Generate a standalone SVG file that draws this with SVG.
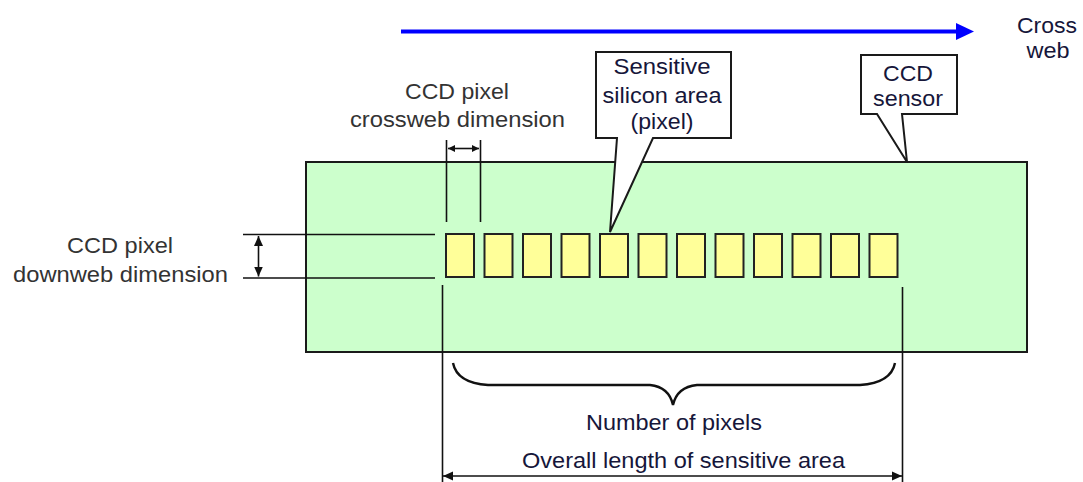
<svg xmlns="http://www.w3.org/2000/svg" width="1083" height="482" viewBox="0 0 1083 482">
  <defs>
    <style>
      .t { font-family: "Liberation Sans", Arial, sans-serif; font-size: 22px; fill: #16163a; text-anchor: middle; }
      .g { fill: #333333; }
      .ln { stroke: #111; stroke-width: 1.6; fill: none; }
      .box { stroke: #1a1a1a; stroke-width: 2; }
      .pix { fill: #ffff99; stroke: #222; stroke-width: 2; }
      .call { fill: #ffffff; stroke: #1a1a1a; stroke-width: 2; stroke-linejoin: miter; }
    </style>
    <marker id="ah" markerUnits="userSpaceOnUse" markerWidth="10" markerHeight="10" refX="10" refY="5" orient="auto-start-reverse">
      <path d="M0,0.5 L10,5 L0,9.5 z" fill="#111"/>
    </marker>
    <marker id="ahs" markerUnits="userSpaceOnUse" markerWidth="7" markerHeight="8" refX="7" refY="4" orient="auto-start-reverse">
      <path d="M0,0.5 L7,4 L0,7.5 z" fill="#111"/>
    </marker>
  </defs>
  <rect width="1083" height="482" fill="#ffffff"/>

  <g id="direction">
    <line x1="401" y1="31.5" x2="958" y2="31.5" stroke="#0000ff" stroke-width="4"/>
    <polygon points="956,23 974,31.5 956,40" fill="#0000ff"/>
    <text class="t" x="1047" y="33" textLength="60" lengthAdjust="spacingAndGlyphs">Cross</text>
    <text class="t" x="1048" y="58" textLength="43" lengthAdjust="spacingAndGlyphs">web</text>
  </g>

  <g id="ccd-sensor">
    <rect class="box" x="306" y="162" width="721" height="190" fill="#ccffcc"/>
  </g>

  <g id="pixels">
    <rect class="pix" x="446" y="234" width="28" height="43"/>
    <rect class="pix" x="484.5" y="234" width="28" height="43"/>
    <rect class="pix" x="523" y="234" width="28" height="43"/>
    <rect class="pix" x="561.5" y="234" width="28" height="43"/>
    <rect class="pix" x="600" y="234" width="28" height="43"/>
    <rect class="pix" x="638.5" y="234" width="28" height="43"/>
    <rect class="pix" x="677" y="234" width="28" height="43"/>
    <rect class="pix" x="715.5" y="234" width="28" height="43"/>
    <rect class="pix" x="754" y="234" width="28" height="43"/>
    <rect class="pix" x="792.5" y="234" width="28" height="43"/>
    <rect class="pix" x="831" y="234" width="28" height="43"/>
    <rect class="pix" x="869.5" y="234" width="28" height="43"/>
  </g>

  <g id="connectors">
    <!-- crossweb dimension -->
    <line class="ln" x1="446.5" y1="140" x2="446.5" y2="222"/>
    <line class="ln" x1="480.5" y1="140" x2="480.5" y2="222"/>
    <line class="ln" x1="448" y1="148.5" x2="479" y2="148.5" marker-start="url(#ahs)" marker-end="url(#ahs)"/>
    <!-- downweb dimension -->
    <line class="ln" x1="243" y1="234.5" x2="435" y2="234.5"/>
    <line class="ln" x1="243" y1="278" x2="435" y2="278"/>
    <line class="ln" x1="258.5" y1="236" x2="258.5" y2="276.5" marker-start="url(#ah)" marker-end="url(#ah)"/>
    <!-- overall length -->
    <line class="ln" x1="442.5" y1="285" x2="442.5" y2="482"/>
    <line class="ln" x1="902.5" y1="287" x2="902.5" y2="482"/>
    <line class="ln" x1="443" y1="476" x2="902" y2="476" marker-start="url(#ah)" marker-end="url(#ah)"/>
    <!-- brace -->
    <path d="M453,363 Q457,383 488,385 L650,385 Q669,387 673,405 Q677,387 697,385 L860,385 Q891,383 895,363" fill="none" stroke="#111" stroke-width="2.4"/>
  </g>

  <g id="callout-sensitive">
    <path class="call" d="M596,52 H731 V138 H653 L610,232 L617,138 H596 Z"/>
    <text class="t" x="662" y="74" textLength="97" lengthAdjust="spacingAndGlyphs">Sensitive</text>
    <text class="t" x="662" y="102.5" textLength="119" lengthAdjust="spacingAndGlyphs">silicon area</text>
    <text class="t" x="662" y="129" textLength="63" lengthAdjust="spacingAndGlyphs">(pixel)</text>
  </g>

  <g id="callout-ccd">
    <path class="call" d="M861,55 H957 V114 H902 L907,162 L877,114 H861 Z"/>
    <text class="t" x="908" y="81" textLength="50" lengthAdjust="spacingAndGlyphs">CCD</text>
    <text class="t" x="908" y="106" textLength="70" lengthAdjust="spacingAndGlyphs">sensor</text>
  </g>

  <g id="label-crossweb">
    <text class="t g" x="457" y="99" textLength="104" lengthAdjust="spacingAndGlyphs">CCD pixel</text>
    <text class="t g" x="457.5" y="127" textLength="215" lengthAdjust="spacingAndGlyphs">crossweb dimension</text>
  </g>

  <g id="label-downweb">
    <text class="t g" x="120" y="252.5" textLength="106" lengthAdjust="spacingAndGlyphs">CCD pixel</text>
    <text class="t g" x="120.5" y="282" textLength="215" lengthAdjust="spacingAndGlyphs">downweb dimension</text>
  </g>

  <g id="label-number">
    <text class="t" x="674" y="430" textLength="176" lengthAdjust="spacingAndGlyphs">Number of pixels</text>
  </g>

  <g id="label-overall">
    <text class="t" x="683.5" y="468" textLength="323" lengthAdjust="spacingAndGlyphs">Overall length of sensitive area</text>
  </g>
</svg>
